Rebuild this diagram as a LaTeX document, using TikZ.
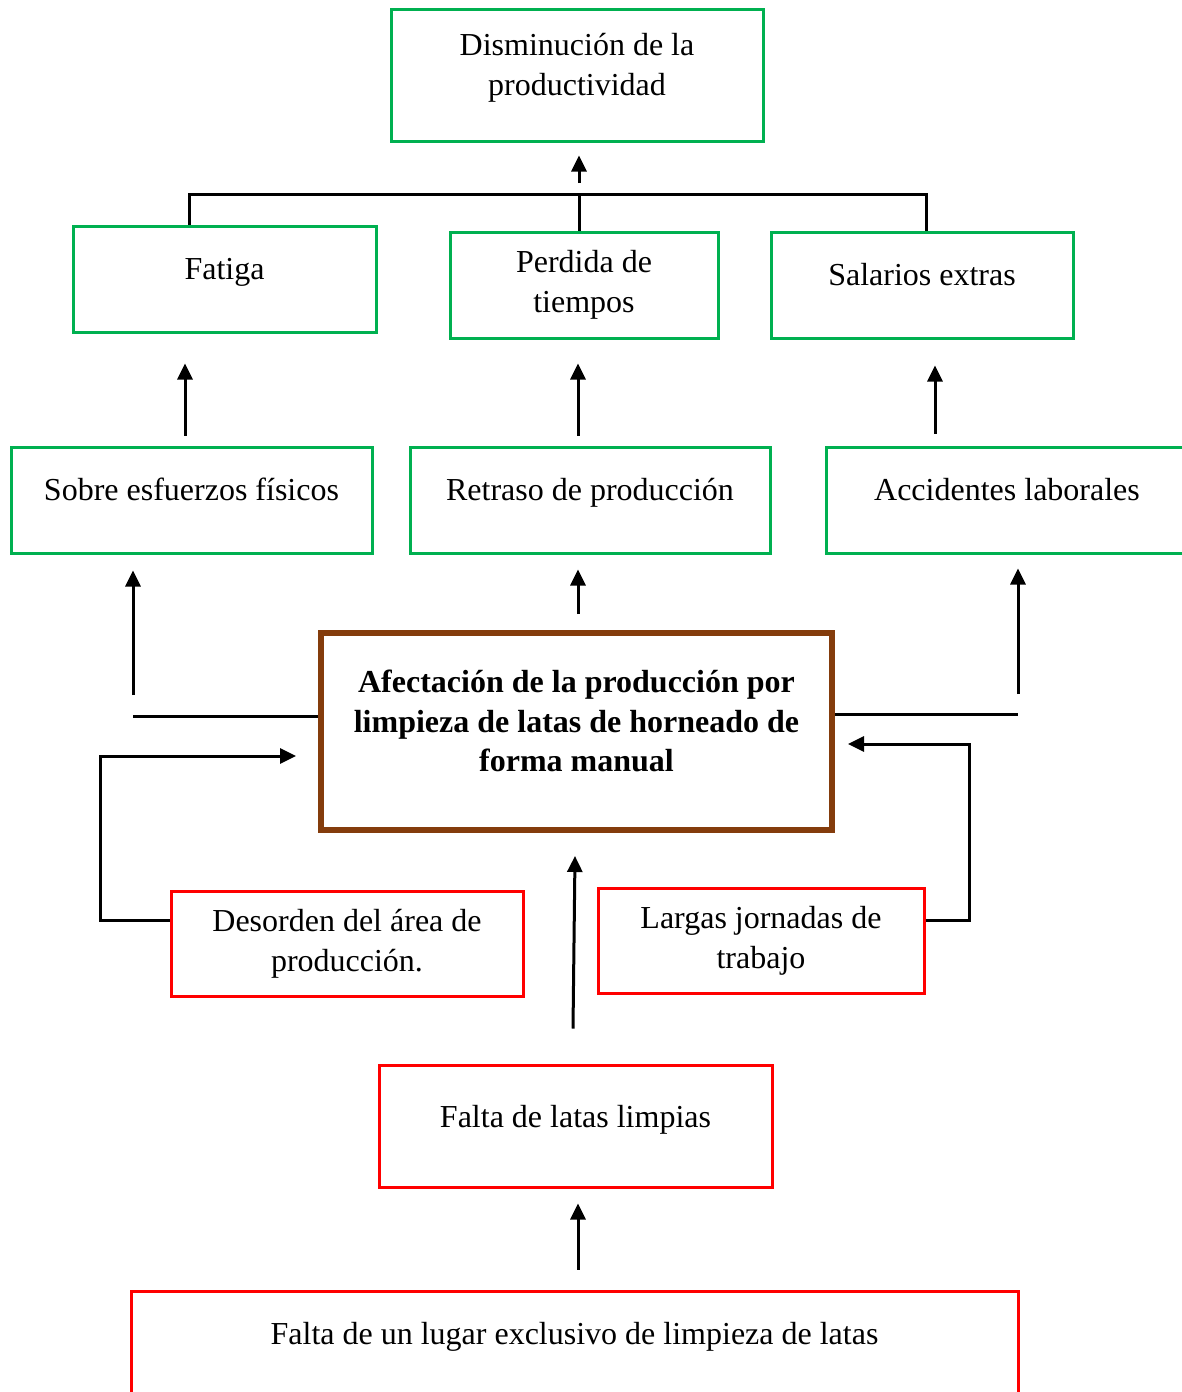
\documentclass[tikz,border=0pt]{standalone}
\usepackage{fontspec}
\setmainfont{Liberation Serif}
\usetikzlibrary{arrows.meta,calc,fit}

\definecolor{verdeW}{HTML}{00B050}
\definecolor{rojoW}{HTML}{FF0000}
\definecolor{marron}{HTML}{843C0C}

\begin{document}
\begin{tikzpicture}[x=0.5pt, y=-0.5pt, >={Triangle[length=8pt,width=7.5pt]},
  verde/.style={draw=verdeW, line width=1.5pt, inner sep=0pt},
  rojo/.style={draw=rojoW, line width=1.5pt, inner sep=0pt},
  txt/.style={font=\fontsize{16}{20}\selectfont, align=center},
  lin/.style={line width=1.5pt},
  arr/.style={->, line width=1.5pt}]

\useasboundingbox (0,0) rectangle (1182,1392);
\clip (0,0) rectangle (1182,1392);

% Los efectos (cajas verdes)
\foreach \n/\xa/\ya/\xb/\yb in {dis/391/9/763/141, fat/73/226/376/332, per/450/232/718/338,
  sal/771/232/1073/338, sob/11/447/372/553, ret/410/447/770/553, acc/826/447/1188/553}
\node[verde, fit={(\xa,\ya)(\xb,\yb)}] (\n) {};

% El problema central
\node[draw=marron, line width=3pt, inner sep=0pt, fit={(321,633)(832,830)}] (cen) {};

% Las causas (cajas rojas)
\foreach \n/\xa/\ya/\xb/\yb in {des/171/891/523/996, lar/598/888/924/993,
  lat/379/1065/772/1187, lug/131/1291/1018/1420}
\node[rojo, fit={(\xa,\ya)(\xb,\yb)}] (\n) {};

% Los textos
\node[txt] (disT) at ($(dis.north)+(0,60.5)$) {Disminución de la\\productividad};
\node[txt] (fatT) at ($(fat.north)+(0,48)$) {Fatiga};
\node[txt] (perT) at ($(per.north)+(0,54)$) {Perdida de\\tiempos};
\node[txt] (salT) at ($(sal.north)+(0,44)$) {Salarios extras};
\node[txt] (sobT) at ($(sob.north)+(0,44)$) {Sobre esfuerzos físicos};
\node[txt] (retT) at ($(ret.north)+(0,47)$) {Retraso de producción};
\node[txt] (accT) at ($(acc.north)+(0,44)$) {Accidentes laborales};
\node[txt, font=\fontsize{16}{19.75}\selectfont\bfseries] (cenT) at ($(cen.north)+(0,91)$)
  {Afectación de la producción por\\limpieza de latas de horneado de\\forma manual};
\node[txt] (desT) at ($(des.north)+(0,54.5)$) {Desorden del área de\\producción.};
\node[txt] (larT) at ($(lar.north)+(0,54.5)$) {Largas jornadas de\\trabajo};
\node[txt] (latT) at ($(lat.north)+(0,56)$) {Falta de latas limpias};
\node[txt] (lugT) at ($(lug.north)+(0,47)$) {Falta de un lugar exclusivo de limpieza de latas};

% La llave de arriba
\coordinate (bI) at (189,194);
\coordinate (bM) at (579,194);
\coordinate (bD) at (926,194);
\draw[lin] (fat.north -| bI) -- (bI) -- (bD) -- (sal.north -| bD);
\draw[lin] (bM) -- (per.north -| bM);
\draw[arr, shorten <=5.5pt, shorten >=6.5pt] (bM) -- (dis.south -| bM);

% Flechas entre efectos
\draw[arr] ($(sob.north)+(-6.5,-10)$) -- ($(fat.south)+(-39.5,30)$);
\draw[arr] ($(ret.north)+(-12,-10)$) -- ($(per.south)+(-6,24)$);
\draw[arr] ($(acc.north)+(-72,-12)$) -- ($(sal.south)+(13,26)$);

% Salidas del problema central
\coordinate (izq) at (133,716);
\coordinate (der) at (1018,714);
\draw[lin] (cen.west |- izq) -- (izq);
\draw[arr, shorten <=10.5pt, shorten >=8pt] (izq) -- (izq |- sob.south);
\draw[lin] (cen.east |- der) -- (der);
\draw[arr, shorten <=10pt, shorten >=7pt] (der) -- (der |- acc.south);
\draw[arr] ($(cen.north)+(1.5,-16)$) -- ($(ret.south)+(-12,15)$);

% Flechas de las causas
\draw[arr] ($(des.west)+(0,-23.5)$) -| ++(-69,-164) -- ($(cen.west)+(-22,24.5)$);
\draw[arr] ($(lar.east)+(0,-20.5)$) -| ++(44,-176) -- ($(cen.east)+(13,12.5)$);
\draw[arr] ($(lat.north)+(-2.5,-35)$) -- ($(cen.south)+(-1.5,23)$);
\draw[arr] ($(lug.north)+(3.5,-20)$) -- ($(lat.south)+(2.5,15)$);

\end{tikzpicture}
\end{document}
